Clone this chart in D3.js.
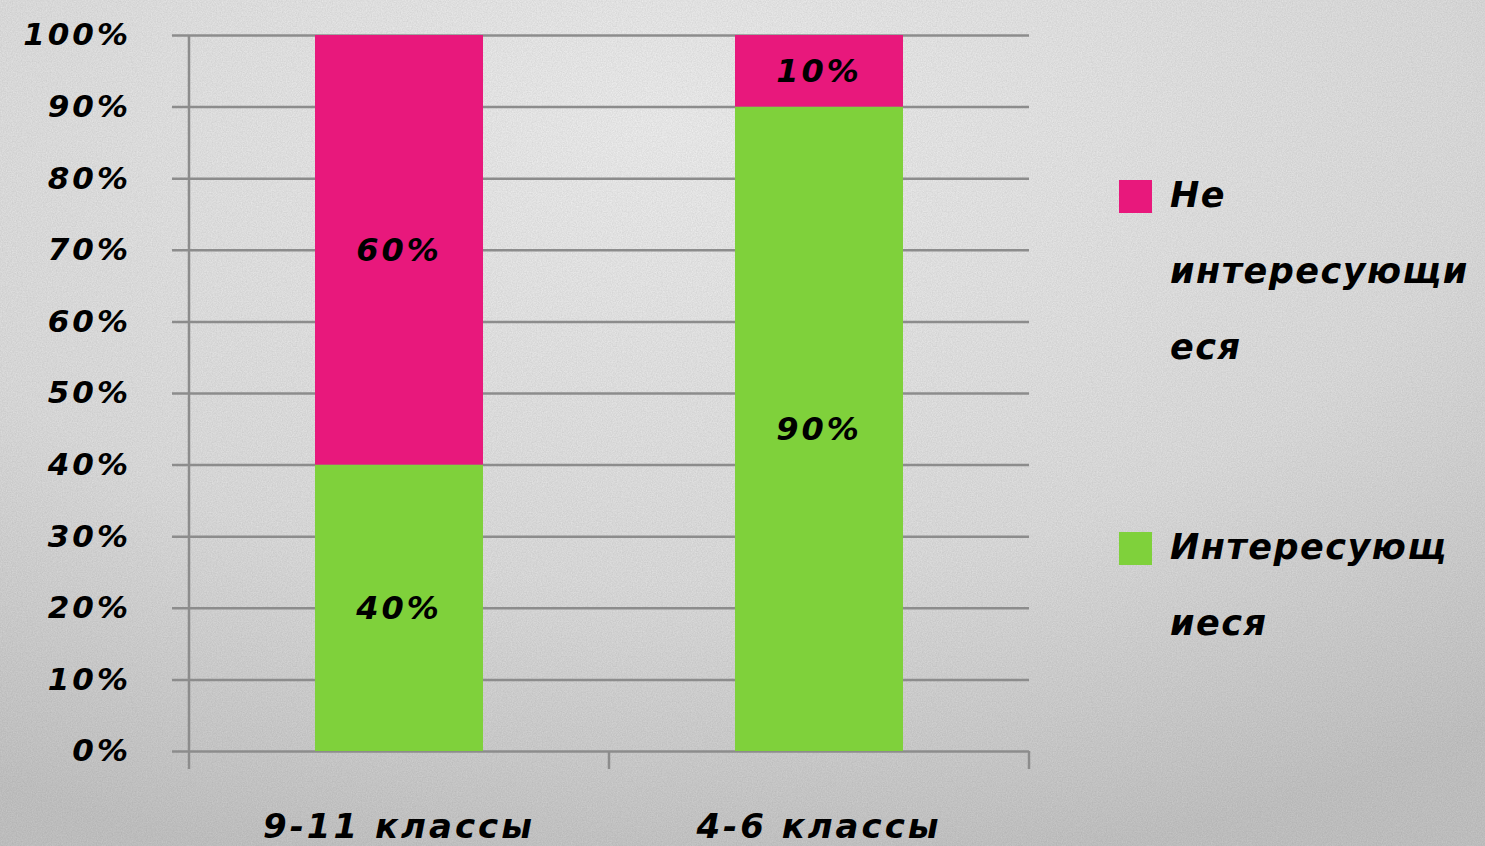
<!DOCTYPE html>
<html>
<head>
<meta charset="utf-8">
<script src="https://cdn.jsdelivr.net/npm/d3@7"></script>
<style>
  html, body { margin: 0; padding: 0; }
  body { width: 1485px; height: 846px; overflow: hidden; }
  text { font-family: "DejaVu Sans", "Noto Sans", sans-serif; font-weight: 700; font-style: italic; fill: #000; }
</style>
</head>
<body>
<svg id="chart" width="1485" height="846"></svg>
<script>
// categories and series (percent shares)
const categories = ["9-11 классы", "4-6 классы"];
const interested = [40, 90];
const notInterested = [60, 10];
const seriesNames = ["Интересующиеся", "Не интересующиеся"];
const legendLines = [["Не", "интересующи", "еся"], ["Интересующ", "иеся"]];
const yTicks = [0, 10, 20, 30, 40, 50, 60, 70, 80, 90, 100];

const colors = { pink: "#e8187c", green: "#7fd13b" };

const svg = d3.select("#chart");
const W = 1485, H = 846;

// background: soft radial gradient with paper grain
const defs = svg.append("defs");
const grad = defs.append("radialGradient")
    .attr("id", "bg").attr("cx", "45%").attr("cy", "15%").attr("r", "90%");
grad.append("stop").attr("offset", "0%").attr("stop-color", "#f3f3f3");
grad.append("stop").attr("offset", "60%").attr("stop-color", "#e2e2e2");
grad.append("stop").attr("offset", "100%").attr("stop-color", "#c8c8c8");

const grain = defs.append("filter").attr("id", "grain")
    .attr("x", 0).attr("y", 0).attr("width", "100%").attr("height", "100%");
grain.append("feTurbulence").attr("type", "fractalNoise")
    .attr("baseFrequency", 0.8).attr("numOctaves", 2).attr("result", "noise");
grain.append("feColorMatrix").attr("type", "matrix")
    .attr("values", "0 0 0 0 0  0 0 0 0 0  0 0 0 0 0  0 0 0 0.12 0");

svg.append("rect").attr("width", W).attr("height", H).attr("fill", "url(#bg)");
svg.append("rect").attr("width", W).attr("height", H).attr("filter", "url(#grain)");

const plot = { left: 189, right: 1029, top: 35, bottom: 751 };

const x = d3.scaleBand()
    .domain(categories)
    .range([plot.left, plot.right])
    .paddingInner(0.6)
    .paddingOuter(0.3);

const y = d3.scaleLinear().domain([0, 100]).range([plot.bottom, plot.top]);

// gridlines + y ticks
const yAxis = d3.axisLeft(y)
    .tickValues(yTicks)
    .tickSize(-(plot.right - plot.left))
    .tickFormat(d => d + "%");

const gy = svg.append("g")
    .attr("transform", `translate(${plot.left},0)`)
    .call(yAxis);
gy.select(".domain").remove();
gy.selectAll(".tick line")
    .attr("x1", -17)
    .attr("stroke", "#8c8c8c").attr("stroke-width", 2.5);
gy.selectAll(".tick text")
    .attr("x", -58).attr("dy", "0.32em")
    .attr("letter-spacing", 3)
    .style("font-size", "31px");

// vertical axis line
svg.append("line")
    .attr("x1", plot.left).attr("x2", plot.left)
    .attr("y1", plot.top).attr("y2", plot.bottom)
    .attr("stroke", "#8c8c8c").attr("stroke-width", 2.5);

// x axis tick marks at band boundaries
const xBounds = [plot.left, (plot.left + plot.right) / 2, plot.right];
svg.append("g").selectAll("line")
    .data(xBounds)
    .join("line")
    .attr("x1", d => d).attr("x2", d => d)
    .attr("y1", plot.bottom).attr("y2", plot.bottom + 18)
    .attr("stroke", "#8c8c8c").attr("stroke-width", 2.5);

svg.append("g").selectAll("text")
    .data(categories)
    .join("text")
    .attr("x", d => x(d) + x.bandwidth() / 2)
    .attr("y", 838)
    .attr("text-anchor", "middle")
    .attr("letter-spacing", 3)
    .style("font-size", "34px")
    .text(d => d);

// stacked bars
const rows = categories.map((c, i) => ({ cat: c, green: interested[i], pink: notInterested[i] }));
const stack = d3.stack().keys(["green", "pink"])(rows);

const layers = svg.append("g").selectAll("g")
    .data(stack)
    .join("g")
    .attr("fill", d => colors[d.key]);

layers.selectAll("rect")
    .data(d => d)
    .join("rect")
    .attr("x", d => x(d.data.cat))
    .attr("width", x.bandwidth())
    .attr("y", d => y(d[1]))
    .attr("height", d => y(d[0]) - y(d[1]));

layers.selectAll("text")
    .data(d => d)
    .join("text")
    .attr("x", d => x(d.data.cat) + x.bandwidth() / 2)
    .attr("y", d => (y(d[0]) + y(d[1])) / 2)
    .attr("dy", "0.35em")
    .attr("text-anchor", "middle")
    .attr("letter-spacing", 3)
    .style("font-size", "32px")
    .text(d => (d[1] - d[0]) + "%");

// legend
const legendItems = [
    { color: colors.pink, lines: legendLines[0], top: 180 },
    { color: colors.green, lines: legendLines[1], top: 532 }
];
const lg = svg.append("g").selectAll("g")
    .data(legendItems)
    .join("g");
lg.append("rect")
    .attr("x", 1119).attr("y", d => d.top)
    .attr("width", 33).attr("height", 33)
    .attr("fill", d => d.color);
lg.append("text")
    .attr("x", 1170)
    .attr("y", d => d.top + 27)
    .attr("letter-spacing", 1.5)
    .style("font-size", "35px")
    .selectAll("tspan")
    .data(d => d.lines)
    .join("tspan")
    .attr("x", 1170)
    .attr("dy", (d, i) => i === 0 ? 0 : 76)
    .text(d => d);
</script>
</body>
</html>
